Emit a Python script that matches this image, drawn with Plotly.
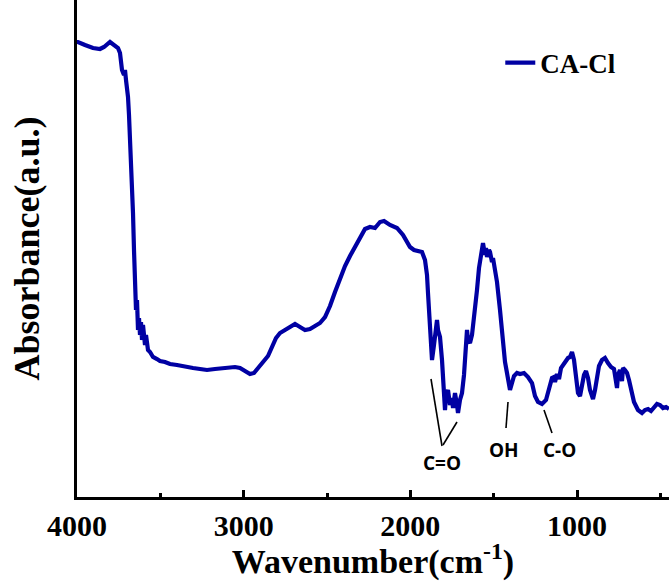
import plotly.graph_objects as go

wavenumber = [4000, 3994, 3952, 3904, 3862, 3838, 3802, 3772, 3754, 3742, 3736, 3730, 3718, 3712, 3706,
              3694, 3688, 3682, 3676, 3670, 3664, 3658, 3652, 3646, 3640, 3634, 3628, 3622, 3616, 3610,
              3604, 3592, 3586, 3574, 3562, 3544, 3520, 3502, 3472, 3442, 3400, 3352, 3304, 3262, 3220,
              3172, 3100, 3052, 3022, 2992, 2962, 2938, 2914, 2884, 2854, 2830, 2806, 2782, 2752, 2722,
              2692, 2662, 2632, 2602, 2572, 2542, 2512, 2482, 2452, 2422, 2392, 2362, 2332, 2302, 2272,
              2242, 2212, 2182, 2158, 2122, 2080, 2044, 2002, 1978, 1954, 1930, 1912, 1900, 1894, 1882,
              1870, 1858, 1852, 1846, 1840, 1834, 1822, 1810, 1804, 1798, 1792, 1786, 1774, 1762, 1750,
              1744, 1732, 1720, 1714, 1702, 1690, 1678, 1672, 1666, 1660, 1654, 1642, 1630, 1624, 1612,
              1600, 1588, 1582, 1570, 1564, 1552, 1546, 1540, 1528, 1522, 1510, 1504, 1492, 1480, 1462,
              1444, 1432, 1420, 1402, 1390, 1378, 1360, 1342, 1318, 1294, 1270, 1252, 1234, 1210, 1186,
              1168, 1150, 1138, 1132, 1120, 1108, 1096, 1084, 1066, 1054, 1042, 1030, 1018, 1006, 994,
              982, 970, 958, 946, 934, 922, 904, 892, 880, 868, 850, 832, 814, 796, 778,
              766, 760, 754, 742, 730, 724, 712, 700, 688, 676, 658, 634, 610, 592, 574,
              556, 538, 520, 502, 484, 466, 448]

absorbance = [4.55, 4.55, 4.52, 4.49, 4.48, 4.50, 4.55, 4.52, 4.49, 4.44, 4.35, 4.27, 4.22, 4.27, 4.17,
              4.00, 3.82, 3.60, 3.42, 3.27, 2.84, 2.47, 2.07, 1.87, 1.97, 1.67, 1.79, 1.62, 1.75, 1.57,
              1.72, 1.52, 1.62, 1.47, 1.45, 1.40, 1.38, 1.36, 1.35, 1.33, 1.32, 1.30, 1.29, 1.28, 1.27,
              1.28, 1.29, 1.30, 1.29, 1.26, 1.23, 1.24, 1.29, 1.34, 1.41, 1.50, 1.59, 1.64, 1.67, 1.71,
              1.73, 1.70, 1.67, 1.68, 1.71, 1.74, 1.80, 1.91, 2.05, 2.19, 2.31, 2.41, 2.50, 2.59, 2.68,
              2.70, 2.69, 2.75, 2.76, 2.72, 2.69, 2.62, 2.50, 2.47, 2.46, 2.45, 2.37, 2.22, 2.04, 1.72,
              1.37, 1.52, 1.64, 1.72, 1.77, 1.67, 1.60, 1.37, 1.24, 1.02, 0.87, 1.02, 1.07, 0.92, 0.99,
              0.89, 1.04, 0.92, 0.84, 0.97, 1.04, 1.22, 1.40, 1.52, 1.67, 1.57, 1.54, 1.62, 1.70, 1.92,
              2.07, 2.29, 2.37, 2.47, 2.54, 2.42, 2.49, 2.40, 2.47, 2.45, 2.35, 2.39, 2.27, 2.15, 1.87,
              1.54, 1.35, 1.24, 1.07, 1.14, 1.21, 1.24, 1.23, 1.24, 1.20, 1.14, 1.01, 0.95, 0.93, 0.97,
              1.07, 1.19, 1.20, 1.15, 1.23, 1.18, 1.29, 1.32, 1.35, 1.39, 1.40, 1.45, 1.37, 1.19, 1.04,
              1.01, 1.12, 1.22, 1.26, 1.19, 1.07, 0.98, 1.07, 1.22, 1.31, 1.37, 1.39, 1.34, 1.30, 1.28,
              1.17, 1.09, 1.22, 1.27, 1.16, 1.29, 1.27, 1.24, 1.17, 1.07, 0.95, 0.87, 0.84, 0.87, 0.88,
              0.86, 0.89, 0.93, 0.92, 0.89, 0.90, 0.88]

series_name = "CA-Cl"
x_ticks = [4000, 3000, 2000, 1000]
x_tick_labels = ["4000", "3000", "2000", "1000"]
peak_labels = ["C=O", "OH", "C-O"]
peak_label_x = [1810, 1438, 1108]
peak_label_y = [0.34, 0.47, 0.47]

serif = "Liberation Serif, Times New Roman, serif"
sans = "Open Sans, Noto Sans, sans-serif"

fig = go.Figure()
fig.add_trace(go.Scatter(
    x=wavenumber, y=absorbance, mode="lines", name=series_name,
    line=dict(color="#0000A3", width=4.2),
))

# pointer lines for peak assignments
pointer_lines = [
    ((1876, 1.18), (1810, 0.51)),
    ((1720, 0.75), (1804, 0.52)),
    ((1414, 0.95), (1426, 0.69)),
    ((1198, 0.87), (1150, 0.64)),
]
for (x0, y0), (x1, y1) in pointer_lines:
    fig.add_shape(type="line", x0=x0, y0=y0, x1=x1, y1=y1, xref="x", yref="y",
                  line=dict(color="black", width=1.6))

for lab, lx, ly in zip(peak_labels, peak_label_x, peak_label_y):
    fig.add_annotation(x=lx, y=ly, text=lab, showarrow=False, xref="x", yref="y",
                       font=dict(family=sans, size=19, color="black", weight="bold"))

fig.update_layout(
    width=669, height=581,
    margin=dict(l=77, r=0, t=0, b=84, autoexpand=False),
    paper_bgcolor="white", plot_bgcolor="white",
    showlegend=True,
    legend=dict(x=0.715, y=0.873, xanchor="left", yanchor="middle",
                font=dict(family=serif, size=27, color="black", weight="bold"),
                bgcolor="rgba(0,0,0,0)"),
    xaxis=dict(
        range=[4000, 448], autorange=False, automargin=False,
        tickvals=x_ticks, ticktext=x_tick_labels,
        ticks="inside", ticklen=7, tickwidth=3, tickcolor="black",
        minor=dict(ticks="inside", ticklen=4, tickwidth=3, dtick=500, tick0=0, tickcolor="black"),
        showline=True, linecolor="black", linewidth=3,
        showgrid=False, zeroline=False,
        tickfont=dict(family=serif, size=30, color="black", weight="bold"),
        title=dict(text="Wavenumber(cm<sup>-1</sup>)", standoff=4,
                   font=dict(family=serif, size=34, color="black", weight="bold")),
    ),
    yaxis=dict(
        range=[0, 4.97], autorange=False, automargin=False,
        showticklabels=False, ticks="",
        showline=True, linecolor="black", linewidth=3,
        showgrid=False, zeroline=False,
        title=dict(text="Absorbance(a.u.)", standoff=24,
                   font=dict(family=serif, size=36, color="black", weight="bold")),
    ),
)

fig.write_html("out.html", config={"displayModeBar": False},
               post_script="document.body.style.margin='0';")
